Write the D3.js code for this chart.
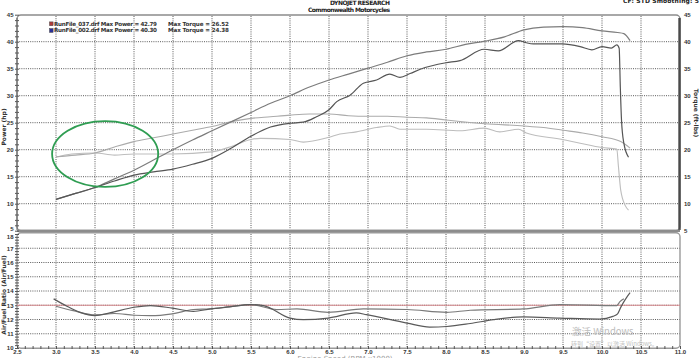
<!DOCTYPE html>
<html><head><meta charset="utf-8">
<script src="https://cdn.jsdelivr.net/npm/d3@7"></script>
<style>
body{margin:0;background:#fff;}
svg{display:block;font-family:"DejaVu Sans",Verdana,sans-serif;}
</style>
</head><body>
<svg id="c" width="700" height="358"></svg>
<script>
// ---------- data ----------
const rpmPower037 = [3.0,3.25,3.5,3.75,4.0,4.25,4.5,4.75,5.0,5.25,5.5,5.75,6.0,6.25,6.5,6.75,7.0,7.25,7.5,7.75,8.0,8.25,8.5,8.75,9.0,9.25,9.5,9.75,10.0,10.2,10.28,10.36];
const power037 = [10.8,11.9,13.0,14.6,16.2,18.1,20.0,21.8,23.5,25.2,26.9,28.6,30.0,31.6,32.9,34.0,35.1,36.2,37.4,38.1,38.6,39.5,40.1,40.9,42.2,42.7,42.8,42.6,42.0,41.7,41.5,40.2];

const rpmTorque037 = [3.0,3.25,3.5,3.75,4.0,4.25,4.5,4.75,5.0,5.25,5.5,5.75,6.0,6.25,6.5,6.75,7.0,7.25,7.5,7.75,8.0,8.5,9.0,9.25,9.5,9.75,10.0,10.24,10.36];
const torque037 = [18.7,19.0,19.4,20.5,21.5,22.2,22.9,23.6,24.3,25.2,25.8,26.1,26.4,26.6,26.6,26.3,26.2,26.2,26.0,25.9,25.5,24.8,24.4,24.1,23.6,23.1,22.4,21.5,20.3];

const rpmPower002 = [3.0,3.25,3.5,3.75,4.0,4.25,4.5,4.75,5.0,5.25,5.5,5.75,6.0,6.17,6.34,6.5,6.6,6.77,6.94,7.11,7.28,7.41,7.54,7.67,8.0,8.18,8.49,8.67,8.93,9.03,9.12,9.49,9.72,9.87,10.0,10.12,10.19,10.22,10.235,10.25,10.28,10.34];
const power002 = [10.8,11.9,13.0,14.2,15.3,15.9,16.4,17.3,18.4,20.3,22.5,24.2,24.9,25.1,26.1,27.4,28.9,30.1,32.3,32.9,34.0,33.4,34.1,34.9,36.1,36.5,38.6,38.3,40.2,39.8,39.6,39.6,39.1,38.5,39.1,38.8,39.4,38.8,31.5,25.5,21.2,18.6];

const rpmTorque002 = [3.0,3.2,3.5,3.75,4.0,4.5,5.0,5.25,5.5,5.62,6.0,6.17,6.5,6.64,6.85,7.11,7.28,7.41,7.75,8.18,8.49,8.69,8.93,9.03,9.49,9.72,10.0,10.19,10.21,10.24,10.3,10.34];
const torque002 = [18.6,19.2,19.4,19.0,19.2,19.2,19.6,20.6,21.9,22.1,21.9,21.4,22.3,22.9,23.3,24.1,24.4,23.8,23.8,23.5,24.0,23.3,23.8,23.1,21.9,21.2,20.4,20.1,17.0,12.5,9.6,8.8];

const rpmAfrA = [2.97,3.14,3.31,3.5,3.69,4.0,4.21,4.49,4.76,4.98,5.23,5.49,5.66,6.0,6.17,6.49,6.85,6.98,7.5,7.79,8.01,8.31,8.61,8.99,9.46,9.97,10.14,10.2,10.24,10.27,10.31,10.36];
const afrA = [13.45,12.93,12.5,12.27,12.46,12.86,12.98,12.8,12.57,12.74,12.89,13.05,12.98,12.1,11.99,12.1,12.46,12.34,11.75,11.47,11.51,11.72,11.99,12.18,12.1,12.03,12.22,12.4,12.85,13.15,13.5,13.88];

const rpmAfrB = [3.0,3.22,3.5,3.75,4.0,4.21,4.49,4.76,4.98,5.23,5.49,5.83,6.09,6.49,6.94,7.5,8.01,8.31,8.99,9.46,10.19,10.23,10.28];
const afrB = [12.93,12.62,12.32,12.42,12.3,12.27,12.4,12.7,12.75,12.9,13.05,12.7,12.74,12.5,12.74,12.7,12.5,12.65,12.74,13.05,12.98,13.25,13.45];

const afrTarget = 13.0;
const xTicks = ["2.5","3.0","3.5","4.0","4.5","5.0","5.5","6.0","6.5","7.0","7.5","8.0","8.5","9.0","9.5","10.0","10.5","11.0"];
const topTicks = [5,10,15,20,25,30,35,40,45];
const botTicks = [10,11,12,13,14,15,16,17,18];
const legendRuns = ["RunFile_037.drf","RunFile_002.drf"];
const legendMaxPower = ["42.79","40.30"];
const legendMaxTorque = ["26.52","24.38"];

// ---------- scales ----------
const x = d3.scaleLinear().domain([2.5, 11.0]).range([17, 680]);
const yTop = d3.scaleLinear().domain([5, 45]).range([230.7, 14.7]);
const yBot = d3.scaleLinear().domain([10, 18]).range([348, 234]);

const svg = d3.select("#c");
const gridCol = "#5a5a5a";

// ---------- grids ----------
const xGridVals = xTicks.map(Number).filter(v => v > 2.5 && v < 11);
const gTop = svg.append("g");
gTop.selectAll("line.h").data(topTicks.filter(v => v > 5 && v < 45)).join("line")
  .attr("x1", x(2.5)).attr("x2", x(11)).attr("y1", d => yTop(d)).attr("y2", d => yTop(d))
  .attr("stroke", gridCol).attr("stroke-width", 1).attr("stroke-dasharray", "1,1.2");
gTop.selectAll("line.v").data(xGridVals).join("line")
  .attr("x1", d => x(d)).attr("x2", d => x(d)).attr("y1", 16).attr("y2", 229)
  .attr("stroke", gridCol).attr("stroke-width", 1).attr("stroke-dasharray", "1,1.2");

const gBot = svg.append("g");
gBot.selectAll("line.h").data(botTicks.filter(v => v > 10 && v < 18)).join("line")
  .attr("x1", x(2.5)).attr("x2", x(11)).attr("y1", d => yBot(d)).attr("y2", d => yBot(d))
  .attr("stroke", gridCol).attr("stroke-width", 1).attr("stroke-dasharray", "1,1.2");
gBot.selectAll("line.v").data(xGridVals).join("line")
  .attr("x1", d => x(d)).attr("x2", d => x(d)).attr("y1", 234).attr("y2", 347)
  .attr("stroke", gridCol).attr("stroke-width", 1).attr("stroke-dasharray", "1,1.2");

// ---------- frames ----------
svg.append("rect").attr("x", 17).attr("y", 15).attr("width", 663).attr("height", 215.5).attr("rx", 4)
  .attr("fill", "none").attr("stroke", "#8c8c8c").attr("stroke-width", 1.4);
svg.append("line").attr("x1", 679.5).attr("x2", 679.5).attr("y1", 18).attr("y2", 230)
  .attr("stroke", "#4a4a4a").attr("stroke-width", 2.4);
svg.append("line").attr("x1", 17).attr("x2", 680).attr("y1", 230.8).attr("y2", 230.8)
  .attr("stroke", "#8c8c8c").attr("stroke-width", 2.2);
svg.append("rect").attr("x", 17).attr("y", 232.8).attr("width", 663).attr("height", 115.5).attr("rx", 4)
  .attr("fill", "none").attr("stroke", "#9a9a9a").attr("stroke-width", 1.4);

// ---------- axes ----------
function styleAxis(g) {
  g.select(".domain").remove();
  g.selectAll("text").attr("font-size", 6).attr("font-weight", "bold").attr("fill", "#333");
  g.selectAll("line").attr("stroke", "#555");
}
// left top
svg.append("g").attr("transform", "translate(17,0)")
  .call(d3.axisLeft(yTop).tickValues(d3.range(5, 46, 1)).tickSize(2).tickFormat(""))
  .call(g => { g.select(".domain").remove(); g.selectAll("line").attr("stroke", "#555").attr("x2", 2).attr("x1", -2); });
svg.append("g").attr("transform", "translate(17,0)")
  .call(d3.axisLeft(yTop).tickValues(topTicks).tickSize(0).tickPadding(3.5).tickFormat(d3.format("d")))
  .call(styleAxis)
  .call(g => g.selectAll(".tick").filter(d => d === 5).select("text").attr("dy", "-0.05em"));
svg.append("line").attr("x1", 17).attr("x2", 17).attr("y1", 18).attr("y2", 230).attr("stroke", "#666").attr("stroke-width", 1);
// right top
svg.append("g").attr("transform", "translate(680,0)")
  .call(d3.axisRight(yTop).tickValues(topTicks).tickSize(0).tickPadding(4).tickFormat(d3.format("d")))
  .call(styleAxis);
// left bottom
svg.append("g").attr("transform", "translate(17,0)")
  .call(d3.axisLeft(yBot).tickValues(d3.range(10, 18.01, 0.2)).tickSize(2).tickFormat(""))
  .call(g => { g.select(".domain").remove(); g.selectAll("line").attr("stroke", "#555").attr("x2", 2).attr("x1", -2); });
svg.append("g").attr("transform", "translate(17,0)")
  .call(d3.axisLeft(yBot).tickValues(botTicks).tickSize(0).tickPadding(3.5).tickFormat(d3.format("d")))
  .call(styleAxis)
  .call(g => g.selectAll(".tick").filter(d => d === 18).select("text").attr("dy", "0.75em"));
// bottom x axis
svg.append("g").attr("transform", "translate(0,348)")
  .call(d3.axisBottom(x).tickValues(d3.range(2.5, 11.001, 0.1)).tickSize(2).tickFormat(""))
  .call(g => { g.select(".domain").remove(); g.selectAll("line").attr("stroke", "#555").attr("y1", -2).attr("y2", 1); });
svg.append("g").attr("transform", "translate(0,348)")
  .call(d3.axisBottom(x).tickValues(xTicks.map(Number)).tickSize(0).tickPadding(2).tickFormat(d3.format(".1f")))
  .call(styleAxis);

// ---------- target line ----------
svg.append("line").attr("x1", x(2.5)).attr("x2", x(11)).attr("y1", yBot(afrTarget)).attr("y2", yBot(afrTarget))
  .attr("stroke", "#d98a8e").attr("stroke-width", 1);

// ---------- curves ----------
function drawCurve(xs, ys, yScale, color, w) {
  const pts = xs.map((r, i) => [r, ys[i]]);
  const line = d3.line().x(d => x(d[0])).y(d => yScale(d[1])).curve(d3.curveMonotoneX);
  svg.append("path").datum(pts).attr("d", line).attr("fill", "none")
    .attr("stroke", color).attr("stroke-width", w).attr("stroke-linejoin", "round");
}
drawCurve(rpmTorque002, torque002, yTop, "#bdbdbd", 1.1);
drawCurve(rpmTorque037, torque037, yTop, "#ababab", 1.1);
drawCurve(rpmPower037, power037, yTop, "#7c7c7c", 1.2);
drawCurve(rpmPower002, power002, yTop, "#555", 1.2);
drawCurve(rpmAfrB, afrB, yBot, "#7a7a7a", 1.2);
drawCurve(rpmAfrA, afrA, yBot, "#5a5a5a", 1.2);

// ---------- annotation ellipse ----------
const ellipseC = [3.63, 19.2];
const ellipseR = [0.68, 6.1];
svg.append("ellipse")
  .attr("cx", x(ellipseC[0])).attr("cy", yTop(ellipseC[1]))
  .attr("rx", x(ellipseC[0] + ellipseR[0]) - x(ellipseC[0]))
  .attr("ry", yTop(ellipseC[1] - ellipseR[1]) - yTop(ellipseC[1]))
  .attr("fill", "none").attr("stroke", "#2f9d52").attr("stroke-width", 1.8);

// ---------- legend ----------
const legCols = ["#b03a3a", "#2a2f9a"];
legendRuns.forEach((r, i) => {
  const yy = 24.5 + i * 6.7;
  svg.append("rect").attr("x", 49.5).attr("y", yy - 2.6).attr("width", 3.6).attr("height", 3.8)
    .attr("fill", legCols[i]).attr("stroke", "#444").attr("stroke-width", 0.5);
  svg.append("text").attr("x", 54).attr("y", yy + 1.2).attr("font-size", 5.6).attr("font-weight", "bold")
    .attr("fill", "#333").attr("textLength", 103).text(`${r} Max Power = ${legendMaxPower[i]}`);
  svg.append("text").attr("x", 168).attr("y", yy + 1.2).attr("font-size", 5.6).attr("font-weight", "bold")
    .attr("fill", "#333").attr("textLength", 61).text(`Max Torque = ${legendMaxTorque[i]}`);
});

// ---------- titles ----------
svg.append("text").attr("x", 360).attr("y", 5).attr("text-anchor", "middle").attr("font-size", 6)
  .attr("font-weight", "bold").attr("fill", "#222").attr("textLength", 60).text("DYNOJET RESEARCH");
svg.append("text").attr("x", 349).attr("y", 11.5).attr("text-anchor", "middle").attr("font-size", 6)
  .attr("font-weight", "bold").attr("fill", "#222").attr("textLength", 82).text("Commonwealth Motorcycles");
svg.append("text").attr("x", 623).attr("y", 2.6).attr("font-size", 6)
  .attr("font-weight", "bold").attr("fill", "#222").attr("textLength", 76).text("CF: STD  Smoothing: 5");

svg.append("text").attr("transform", "translate(6,127) rotate(-90)").attr("text-anchor", "middle")
  .attr("font-size", 6).attr("font-weight", "bold").attr("fill", "#333").text("Power (hp)");
svg.append("text").attr("transform", "translate(694,113) rotate(90)").attr("text-anchor", "middle")
  .attr("font-size", 6).attr("font-weight", "bold").attr("fill", "#333").text("Torque (ft-lbs)");
svg.append("text").attr("transform", "translate(6,295) rotate(-90)").attr("text-anchor", "middle")
  .attr("font-size", 6).attr("font-weight", "bold").attr("fill", "#333").text("Air/Fuel Ratio (Air/Fuel)");
svg.append("text").attr("x", 345).attr("y", 361).attr("text-anchor", "middle")
  .attr("font-size", 7).attr("fill", "#999").text("Engine Speed (RPM x1000)");

// ---------- watermark ----------
svg.append("text").attr("x", 572).attr("y", 335).attr("font-family", "'Noto Sans CJK SC',sans-serif")
  .attr("font-size", 9.5).attr("fill", "#bdbdbd").text("激活 Windows");
svg.append("text").attr("x", 571).attr("y", 346).attr("font-family", "'Noto Sans CJK SC',sans-serif")
  .attr("font-size", 6).attr("fill", "#c4c4c4").text("转到“设置”以激活 Windows。");
</script>
</body></html>
